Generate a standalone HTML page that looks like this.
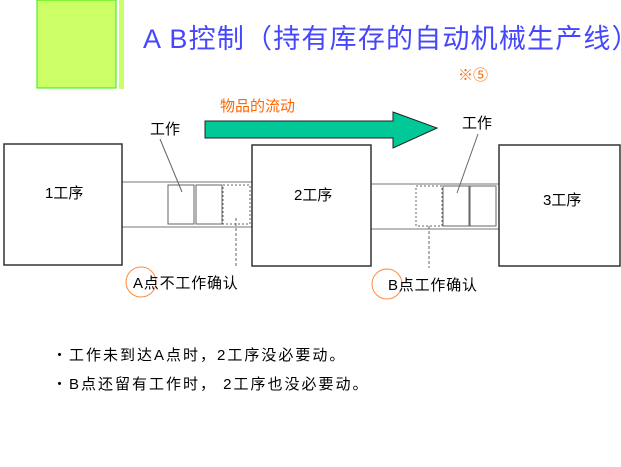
<!DOCTYPE html>
<html><head><meta charset="utf-8"><style>
html,body{margin:0;padding:0;background:#fff;}
svg{display:block;}
text{font-family:"Liberation Sans","Noto Sans CJK SC",sans-serif;}
</style></head><body>
<svg width="621" height="467" viewBox="0 0 621 467" xmlns="http://www.w3.org/2000/svg">
<rect x="37" y="0" width="79" height="88" fill="#ccff66" stroke="#33ee00" stroke-width="1"/>
<rect x="119" y="0" width="5" height="89" fill="#ccff66"/>
<text x="143" y="48" font-size="27" letter-spacing="1.2" fill="#4646ff">A B控制（持有库存的自动机械生产线）</text>
<text x="458" y="80" font-size="15" fill="#ff6600">※⑤</text>
<text x="220" y="111" font-size="15" fill="#ff6600">物品的流动</text>
<polygon points="205,121 393,121 393,112 437,128 393,148 393,138 205,138" fill="#00c896" stroke="#222" stroke-width="1"/>
<g fill="#fff" stroke="#333" stroke-width="1.5">
<rect x="122" y="182" width="130" height="45" stroke-width="1" stroke="#777"/>
<rect x="371" y="184" width="128" height="45" stroke-width="1" stroke="#777"/>
<rect x="4" y="144" width="118" height="121"/>
<rect x="252" y="145" width="119" height="121"/>
<rect x="499" y="145" width="121" height="121"/>
</g>
<g fill="none" stroke="#666" stroke-width="1">
<rect x="168" y="185" width="26" height="39"/>
<rect x="196" y="185" width="26" height="39"/>
<rect x="223" y="185" width="27" height="39" stroke-dasharray="2,2"/>
<rect x="416" y="186" width="26" height="40" stroke-dasharray="2,2"/>
<rect x="443" y="186" width="26" height="40"/>
<rect x="470" y="186" width="26" height="40"/>
<line x1="160" y1="139" x2="182" y2="192"/>
<line x1="478" y1="134" x2="457" y2="193"/>
<line x1="236" y1="218" x2="236" y2="268" stroke-dasharray="3,2"/>
<line x1="429" y1="226" x2="429" y2="268" stroke-dasharray="3,2"/>
</g>
<text x="150" y="134" font-size="15" fill="#000">工作</text>
<text x="462" y="128" font-size="15" fill="#000">工作</text>
<text x="45" y="198" font-size="15" fill="#000">1工序</text>
<text x="294" y="200" font-size="15" fill="#000">2工序</text>
<text x="543" y="205" font-size="15" fill="#000">3工序</text>
<circle cx="141" cy="282" r="15" fill="none" stroke="#ff8c3c" stroke-width="1"/>
<circle cx="387" cy="284" r="15" fill="none" stroke="#ff8c3c" stroke-width="1"/>
<text x="133" y="288" font-size="15" letter-spacing="0.8" fill="#000">A点不工作确认</text>
<text x="388" y="290" font-size="15" letter-spacing="0.8" fill="#000">B点工作确认</text>
<text x="52" y="360" font-size="15" letter-spacing="2" fill="#000">・工作未到达A点时，2工序没必要动。</text>
<text x="52" y="389" font-size="15" letter-spacing="2" fill="#000">・B点还留有工作时， 2工序也没必要动。</text>
</svg>
</body></html>
